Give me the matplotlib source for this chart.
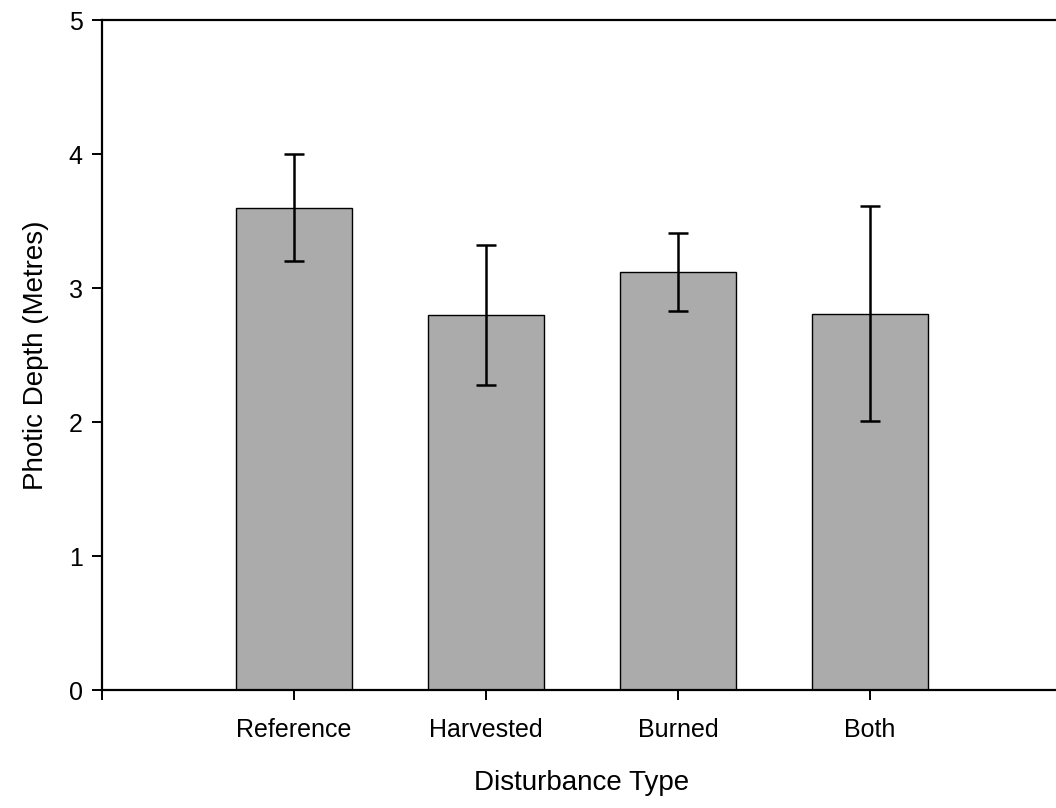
import matplotlib.pyplot as plt

plt.rcParams['font.family'] = ['Liberation Sans', 'DejaVu Sans']

# Mean photic depth per disturbance type, with error bar half-widths
categories = ['Reference', 'Harvested', 'Burned', 'Both']
depth = [3.6, 2.8, 3.12, 2.81]
depth_err = [0.4, 0.52, 0.29, 0.8]
y_ticks = [0, 1, 2, 3, 4, 5]

fig = plt.figure(figsize=(10.56, 8.08), dpi=100)
ax = fig.add_axes([0.0966, 0.146, 0.909, 0.829])

positions = list(range(1, len(categories) + 1))
ax.bar(positions, depth, width=0.6, color='#ababab', edgecolor='black',
       linewidth=1.0, zorder=2)
ax.errorbar(positions, depth, yerr=depth_err, fmt='none', ecolor='black',
            elinewidth=1.8, capsize=7.5, capthick=1.8, zorder=3)

ax.set_xlim(0, 5)
ax.set_ylim(0, 5)
ax.set_yticks(y_ticks)
ax.set_xticks([0] + positions)
ax.set_xticklabels([''] + categories)

for side in ['left', 'bottom', 'top', 'right']:
    ax.spines[side].set_linewidth(1.6)

ax.tick_params(axis='both', direction='out', length=7, width=1.4,
               labelsize=18)
ax.tick_params(axis='y', pad=7)
ax.tick_params(axis='x', pad=13)

ax.set_ylabel('Photic Depth (Metres)', fontsize=20, labelpad=14)
ax.set_xlabel('Disturbance Type', fontsize=20, labelpad=20)

fig.savefig('out.png', dpi=100)
